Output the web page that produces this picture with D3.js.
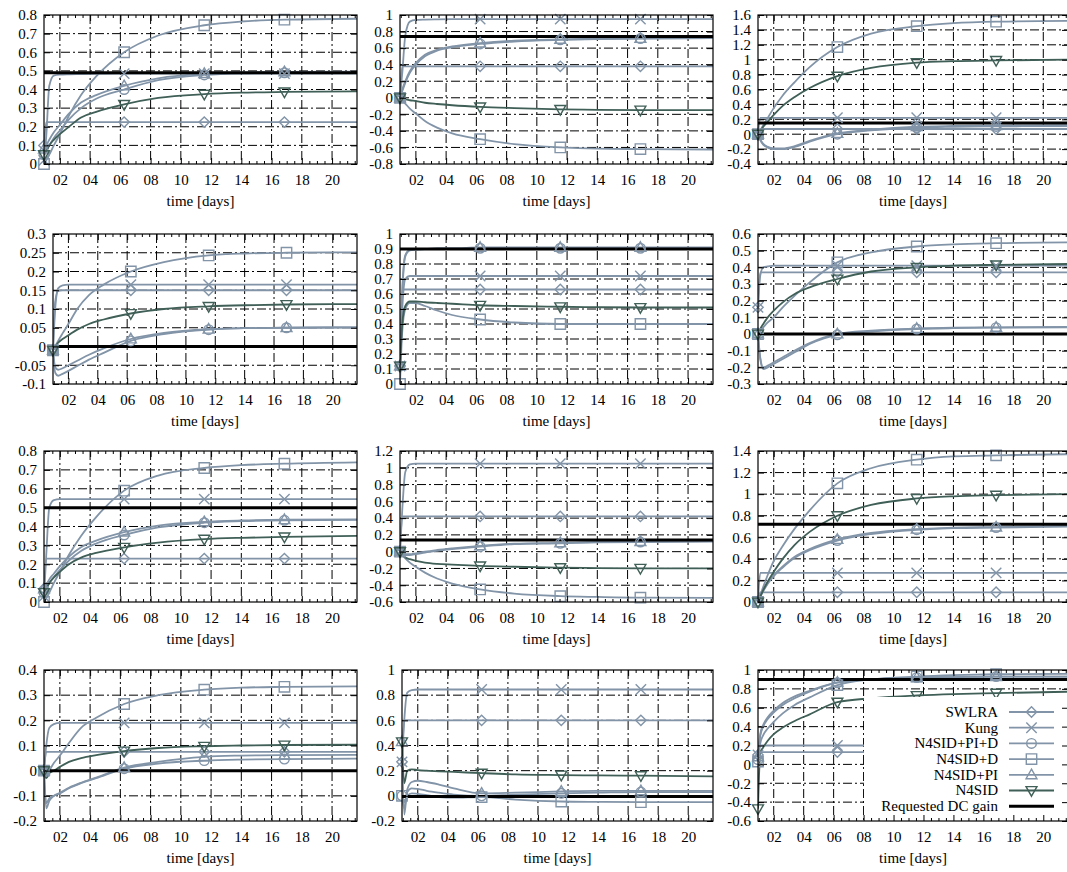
<!DOCTYPE html>
<html><head><meta charset="utf-8">
<script src="https://cdn.jsdelivr.net/npm/d3@7"></script>
<style>
body{margin:0;background:#fff}
svg{display:block}
svg text{font-family:"Liberation Serif","Times New Roman",Times,"DejaVu Serif",serif !important;fill:#000}
</style>
</head><body>
<svg id="c" width="1067" height="872"></svg>
<script>
// ---------------- data ----------------
const times = [0.95, 1.1, 1.3, 1.6, 2, 2.6, 3.4, 4.4, 6.25, 8.5, 11.55, 14, 16.85, 21.65];
const markerTimes = [0.95, 6.25, 11.55, 16.85];
const xDomain = [0.95, 21.65];
const seriesNames = ["SWLRA", "Kung", "N4SID+PI+D", "N4SID+D", "N4SID+PI", "N4SID"];
const dcName = "Requested DC gain";
const xTickValues = [2, 4, 6, 8, 10, 12, 14, 16, 18, 20];
const xTickLabels = ["02", "04", "06", "08", "10", "12", "14", "16", "18", "20"];
const xMinorTicks = [1, 1.5, 2.5, 3, 3.5, 4.5, 5, 5.5, 6.5, 7, 7.5, 8.5, 9, 9.5, 10.5, 11, 11.5, 12.5, 13, 13.5, 14.5, 15, 15.5, 16.5, 17, 17.5, 18.5, 19, 19.5, 20.5, 21, 21.5];
const xTitle = "time [days]";
const yDomains = [[0,0.8],[-0.8,1],[-0.4,1.6],[-0.1,0.3],[0,1],[-0.3,0.6],[0,0.8],[-0.6,1.2],[0,1.4],[-0.2,0.4],[-0.2,1],[-0.6,1]];
const yTickSteps = [0.1,0.2,0.2,0.05,0.1,0.1,0.1,0.2,0.2,0.1,0.2,0.2];
const dcGain = [0.49, 0.74, 0.15, 0, 0.9, 0, 0.5, 0.14, 0.72, 0, -0.005, 0.9];

// series order in each panel: SWLRA, Kung, N4SID+PI+D, N4SID+D, N4SID+PI, N4SID
const p01 = [
 [0.1,0.225,0.225,0.225,0.225,0.225,0.225,0.225,0.225,0.225,0.225,0.225,0.225,0.225],
 [0.02,0.15,0.42,0.475,0.48,0.482,0.483,0.484,0.485,0.485,0.485,0.485,0.485,0.485],
 [0.05,0.07,0.1,0.14,0.18,0.24,0.3,0.35,0.40,0.45,0.478,0.487,0.49,0.492],
 [0,0.02,0.05,0.1,0.16,0.26,0.37,0.47,0.6,0.69,0.745,0.765,0.775,0.78],
 [0.08,0.1,0.13,0.17,0.21,0.27,0.33,0.37,0.42,0.46,0.485,0.492,0.495,0.496],
 [0.05,0.07,0.1,0.13,0.16,0.2,0.25,0.28,0.32,0.355,0.375,0.383,0.387,0.39]];
const p02 = [
 [0,0.38,0.38,0.38,0.38,0.38,0.38,0.38,0.38,0.38,0.38,0.38,0.38,0.38],
 [0,0.3,0.75,0.92,0.94,0.945,0.948,0.95,0.95,0.95,0.95,0.95,0.95,0.95],
 [0,0.08,0.18,0.3,0.4,0.5,0.57,0.61,0.65,0.68,0.7,0.71,0.715,0.72],
 [0,-0.03,-0.07,-0.13,-0.19,-0.28,-0.36,-0.43,-0.5,-0.56,-0.6,-0.615,-0.62,-0.625],
 [0,0.1,0.2,0.32,0.42,0.52,0.58,0.62,0.66,0.69,0.705,0.712,0.717,0.72],
 [0,-0.01,-0.02,-0.03,-0.04,-0.06,-0.075,-0.09,-0.11,-0.125,-0.14,-0.145,-0.148,-0.15]];
const p03 = [
 [0,0.07,0.07,0.07,0.07,0.07,0.07,0.07,0.07,0.07,0.07,0.07,0.07,0.07],
 [0,0.22,0.22,0.22,0.22,0.22,0.22,0.22,0.22,0.22,0.22,0.22,0.22,0.22],
 [0,-0.08,-0.14,-0.18,-0.2,-0.2,-0.17,-0.1,0.0,0.05,0.09,0.1,0.105,0.11],
 [0,0.05,0.12,0.22,0.35,0.52,0.7,0.9,1.17,1.35,1.45,1.49,1.51,1.52],
 [0,-0.07,-0.13,-0.17,-0.19,-0.19,-0.16,-0.09,0.01,0.06,0.1,0.11,0.115,0.12],
 [0,0.04,0.1,0.17,0.26,0.38,0.5,0.62,0.78,0.89,0.96,0.98,0.99,1.0]];
const p04 = [
 [-0.01,0.12,0.148,0.15,0.15,0.15,0.15,0.15,0.15,0.15,0.15,0.15,0.15,0.15],
 [-0.01,0.1,0.155,0.163,0.165,0.165,0.165,0.165,0.165,0.165,0.165,0.165,0.165,0.165],
 [-0.01,-0.07,-0.078,-0.073,-0.065,-0.052,-0.035,-0.017,0.015,0.033,0.045,0.049,0.05,0.051],
 [-0.01,0.0,0.015,0.035,0.06,0.1,0.137,0.165,0.2,0.225,0.243,0.248,0.25,0.251],
 [-0.01,-0.055,-0.062,-0.058,-0.05,-0.038,-0.022,-0.005,0.02,0.036,0.046,0.049,0.05,0.051],
 [-0.01,0,0.01,0.02,0.03,0.045,0.06,0.072,0.088,0.1,0.107,0.11,0.112,0.113]];
const p05 = [
 [0.12,0.63,0.63,0.63,0.63,0.63,0.63,0.63,0.63,0.63,0.63,0.63,0.63,0.63],
 [0.12,0.5,0.7,0.72,0.72,0.72,0.72,0.72,0.72,0.72,0.72,0.72,0.72,0.72],
 [0.12,0.6,0.85,0.89,0.895,0.9,0.9,0.9,0.905,0.905,0.905,0.905,0.905,0.905],
 [0,0.35,0.5,0.54,0.54,0.52,0.49,0.46,0.43,0.41,0.4,0.4,0.4,0.4],
 [0.12,0.62,0.86,0.895,0.9,0.9,0.905,0.905,0.91,0.91,0.91,0.91,0.91,0.91],
 [0.12,0.4,0.52,0.55,0.55,0.545,0.54,0.535,0.525,0.52,0.515,0.512,0.51,0.51]];
const p06 = [
 [0.16,0.37,0.37,0.37,0.37,0.37,0.37,0.37,0.37,0.37,0.37,0.37,0.37,0.37],
 [0.16,0.35,0.4,0.405,0.41,0.41,0.41,0.41,0.41,0.41,0.41,0.41,0.41,0.41],
 [0,-0.15,-0.21,-0.2,-0.18,-0.15,-0.11,-0.06,-0.005,0.015,0.03,0.035,0.038,0.04],
 [0,0.02,0.04,0.07,0.1,0.16,0.23,0.31,0.43,0.49,0.525,0.538,0.545,0.55],
 [0,-0.14,-0.2,-0.19,-0.17,-0.14,-0.1,-0.055,0.0,0.02,0.033,0.038,0.04,0.042],
 [0,0.03,0.06,0.1,0.14,0.19,0.24,0.28,0.33,0.375,0.4,0.41,0.415,0.42]];
const p07 = [
 [0.07,0.23,0.23,0.23,0.23,0.23,0.23,0.23,0.23,0.23,0.23,0.23,0.23,0.23],
 [0.03,0.25,0.5,0.54,0.545,0.545,0.545,0.545,0.545,0.545,0.545,0.545,0.545,0.545],
 [0.05,0.07,0.1,0.13,0.17,0.22,0.27,0.31,0.355,0.395,0.42,0.428,0.433,0.435],
 [0,0.02,0.05,0.1,0.16,0.25,0.35,0.45,0.59,0.67,0.71,0.725,0.733,0.74],
 [0.07,0.09,0.12,0.15,0.19,0.24,0.29,0.325,0.37,0.405,0.425,0.432,0.436,0.438],
 [0.05,0.07,0.1,0.13,0.16,0.2,0.235,0.26,0.29,0.315,0.333,0.34,0.345,0.35]];
const p08 = [
 [0,0.42,0.42,0.42,0.42,0.42,0.42,0.42,0.42,0.42,0.42,0.42,0.42,0.42],
 [0,0.5,0.95,1.04,1.05,1.05,1.05,1.05,1.05,1.05,1.05,1.05,1.05,1.05],
 [0,-0.03,-0.04,-0.04,-0.03,-0.01,0.01,0.03,0.06,0.09,0.1,0.11,0.115,0.12],
 [0,-0.04,-0.08,-0.13,-0.18,-0.25,-0.32,-0.38,-0.45,-0.5,-0.53,-0.54,-0.548,-0.55],
 [0,-0.02,-0.03,-0.03,-0.02,0,0.02,0.04,0.07,0.095,0.105,0.115,0.12,0.125],
 [0,-0.04,-0.07,-0.09,-0.11,-0.13,-0.145,-0.155,-0.17,-0.18,-0.19,-0.195,-0.198,-0.2]];
const p09 = [
 [0,0.09,0.09,0.09,0.09,0.09,0.09,0.09,0.09,0.09,0.09,0.09,0.09,0.09],
 [0,0.27,0.27,0.27,0.27,0.27,0.27,0.27,0.27,0.27,0.27,0.27,0.27,0.27],
 [0,0.05,0.1,0.17,0.24,0.32,0.41,0.48,0.57,0.63,0.67,0.685,0.69,0.7],
 [0,0.06,0.14,0.25,0.38,0.52,0.68,0.85,1.1,1.24,1.32,1.35,1.36,1.37],
 [0,0.05,0.11,0.18,0.25,0.33,0.42,0.49,0.58,0.64,0.675,0.69,0.695,0.705],
 [0,0.05,0.11,0.19,0.28,0.4,0.53,0.65,0.8,0.9,0.96,0.98,0.99,1.0]];
const p10 = [
 [0,0.075,0.075,0.075,0.075,0.075,0.075,0.075,0.075,0.075,0.075,0.075,0.075,0.075],
 [0,0.1,0.17,0.185,0.19,0.19,0.19,0.19,0.19,0.19,0.19,0.19,0.19,0.19],
 [0,-0.13,-0.11,-0.1,-0.09,-0.07,-0.05,-0.03,0.008,0.028,0.04,0.044,0.046,0.048],
 [0,-0.02,0.0,0.03,0.06,0.11,0.17,0.21,0.265,0.3,0.322,0.33,0.333,0.335],
 [0,-0.15,-0.12,-0.1,-0.088,-0.068,-0.048,-0.028,0.012,0.035,0.055,0.06,0.062,0.063],
 [0,-0.03,-0.01,0.0,0.015,0.035,0.05,0.062,0.078,0.09,0.097,0.1,0.102,0.103]];
const p11 = [
 [0.27,0.6,0.6,0.6,0.6,0.6,0.6,0.6,0.6,0.6,0.6,0.6,0.6,0.6],
 [0.27,0.6,0.82,0.84,0.845,0.845,0.845,0.845,0.845,0.845,0.845,0.845,0.845,0.845],
 [0,-0.1,0.03,0.06,0.055,0.04,0.025,0.01,0.0,0.01,0.02,0.025,0.03,0.03],
 [0,-0.05,0.0,0.02,0.015,0.005,-0.01,-0.015,-0.01,-0.03,-0.045,-0.048,-0.05,-0.05],
 [0.43,-0.15,0.05,0.11,0.12,0.11,0.09,0.06,0.02,0.025,0.035,0.04,0.04,0.04],
 [0.43,0.1,0.2,0.21,0.205,0.2,0.195,0.19,0.18,0.17,0.165,0.162,0.16,0.155]];
const p12 = [
 [0.1,0.13,0.13,0.13,0.13,0.13,0.13,0.13,0.13,0.13,0.13,0.13,0.13,0.13],
 [0.1,0.2,0.2,0.2,0.2,0.2,0.2,0.2,0.2,0.2,0.2,0.2,0.2,0.2],
 [0.05,0.3,0.4,0.48,0.55,0.63,0.7,0.77,0.865,0.9,0.92,0.925,0.93,0.93],
 [0.03,0.22,0.31,0.38,0.45,0.54,0.63,0.71,0.84,0.9,0.93,0.945,0.955,0.96],
 [0.08,0.32,0.42,0.5,0.57,0.65,0.72,0.78,0.87,0.9,0.92,0.925,0.93,0.93],
 [-0.47,0.12,0.18,0.25,0.32,0.39,0.46,0.53,0.66,0.7,0.73,0.745,0.755,0.77]];
const panels = [p01,p02,p03,p04,p05,p06,p07,p08,p09,p10,p11,p12];

// ---------------- layout / style ----------------
const plotLeft = [[44,400,758],[53,400,758],[44,400,758],[44,402,758]];
const colRight = [357,713,1068];
const rowTop = [15,234,451,670];
const rowBottom = [164,384,602,821];
const shapes = ["diamond","cross","circle","square","triUp","triDown"];
const colors = ["#8294a8","#8294a8","#8294a8","#8294a8","#8294a8","#3f5f57"];
const FONT = "'Liberation Serif', 'Times New Roman', Times, 'DejaVu Serif', serif";

const svg = d3.select("#c");

function drawMarker(g, shape, cx, cy, color){
  const s = 5.2;
  let el;
  if (shape === "circle") {
    el = g.append("circle").attr("cx", cx).attr("cy", cy).attr("r", 4.8);
  } else {
    let d;
    if (shape === "diamond") d = `M${cx},${cy-s}L${cx+s},${cy}L${cx},${cy+s}L${cx-s},${cy}Z`;
    else if (shape === "cross") d = `M${cx-s},${cy-s}L${cx+s},${cy+s}M${cx-s},${cy+s}L${cx+s},${cy-s}`;
    else if (shape === "square") d = `M${cx-s},${cy-s}H${cx+s}V${cy+s}H${cx-s}Z`;
    else if (shape === "triUp") d = `M${cx},${cy-s*1.1}L${cx+s*1.05},${cy+s*0.75}L${cx-s*1.05},${cy+s*0.75}Z`;
    else d = `M${cx},${cy+s*1.1}L${cx+s*1.05},${cy-s*0.75}L${cx-s*1.05},${cy-s*0.75}Z`;
    el = g.append("path").attr("d", d);
  }
  el.attr("fill", "none").attr("stroke", color).attr("stroke-width", 1.4);
}

function fmtY(v){
  const r = +v.toFixed(4);
  return (r === 0 ? "0" : String(r));
}

panels.forEach((data, i) => {
  const r = Math.floor(i / 3), c = i % 3;
  const L = plotLeft[r][c], R = colRight[c], T = rowTop[r], B = rowBottom[r];
  const x = d3.scaleLinear().domain(xDomain).range([L, R]);
  const y = d3.scaleLinear().domain(yDomains[i]).range([B, T]);
  const [y0, y1] = yDomains[i];
  const n = Math.round((y1 - y0) / yTickSteps[i]);
  const yTicks = d3.range(n + 1).map(k => +(y0 + k * yTickSteps[i]).toFixed(4));

  const g = svg.append("g");
  const clipId = "clip" + i;
  g.append("clipPath").attr("id", clipId).append("rect")
    .attr("x", L).attr("y", T).attr("width", R - L).attr("height", B - T);

  // grid
  const grid = g.append("g").attr("stroke", "#000").attr("stroke-width", 1)
    .attr("stroke-dasharray", "9,3,2,3").attr("fill", "none");
  yTicks.filter(v => v > y0 && v < y1).forEach(v => {
    grid.append("line").attr("x1", L).attr("x2", R).attr("y1", y(v)).attr("y2", y(v));
  });
  xTickValues.forEach(v => {
    grid.append("line").attr("x1", x(v)).attr("x2", x(v)).attr("y1", T).attr("y2", B);
  });

  // series lines
  const line = d3.line().x((d, k) => x(times[k])).y(d => y(d)).curve(d3.curveMonotoneX);
  const lines = g.append("g").attr("clip-path", `url(#${clipId})`);
  data.forEach((vals, s) => {
    lines.append("path").attr("d", line(vals)).attr("fill", "none")
      .attr("stroke", colors[s]).attr("stroke-width", 1.8).attr("stroke-linejoin", "round");
  });

  // DC gain
  lines.append("line").attr("x1", L).attr("x2", R)
    .attr("y1", y(dcGain[i])).attr("y2", y(dcGain[i]))
    .attr("stroke", "#000").attr("stroke-width", 3);

  // markers
  const mg = g.append("g");
  data.forEach((vals, s) => {
    vals.forEach((v, k) => {
      if (markerTimes.includes(times[k])) drawMarker(mg, shapes[s], x(times[k]), y(v), colors[s]);
    });
  });

  // legend (last panel)
  if (i === 11) {
    const lg = g.append("g");
    lg.append("rect").attr("x", 864).attr("y", 697).attr("width", R - 864).attr("height", B - 697)
      .attr("fill", "#fff");
    const textX = 998, lx1 = 1009, lx2 = 1054, ly0 = 712, ldy = 15.7;
    seriesNames.forEach((name, s) => {
      const yy = ly0 + s * ldy;
      lg.append("text").attr("x", textX).attr("y", yy).attr("dy", "0.33em")
        .attr("text-anchor", "end").style("font-size", "15px").style("font-family", FONT).text(name);
      lg.append("line").attr("x1", lx1).attr("x2", lx2).attr("y1", yy).attr("y2", yy)
        .attr("stroke", colors[s]).attr("stroke-width", 1.8);
      drawMarker(lg, shapes[s], (lx1 + lx2) / 2, yy, colors[s]);
    });
    const yy = ly0 + 6 * ldy;
    lg.append("text").attr("x", textX).attr("y", yy).attr("dy", "0.33em")
      .attr("text-anchor", "end").style("font-size", "15px").style("font-family", FONT).text(dcName);
    lg.append("line").attr("x1", lx1).attr("x2", lx2).attr("y1", yy).attr("y2", yy)
      .attr("stroke", "#000").attr("stroke-width", 3);
  }

  // axes (ticks inward)
  const styleAxis = sel => {
    sel.attr("font-family", null).attr("font-size", null);
    sel.selectAll("text").style("font-family", FONT).style("font-size", "15px");
    sel.select(".domain").remove();
    sel.selectAll(".tick line").attr("stroke", "#000").attr("stroke-width", 1);
  };
  g.append("g").attr("transform", `translate(0,${B})`)
    .call(d3.axisBottom(x).tickValues(xTickValues).tickFormat((d, k) => xTickLabels[k])
      .tickSizeInner(-6).tickSizeOuter(0).tickPadding(10)).call(styleAxis);
  g.append("g").attr("transform", `translate(0,${T})`)
    .call(d3.axisTop(x).tickValues(xTickValues).tickFormat("").tickSizeInner(-6).tickSizeOuter(0)).call(styleAxis);
  g.append("g").attr("transform", `translate(0,${B})`)
    .call(d3.axisBottom(x).tickValues(xMinorTicks).tickFormat("").tickSizeInner(-3).tickSizeOuter(0)).call(styleAxis);
  g.append("g").attr("transform", `translate(0,${T})`)
    .call(d3.axisTop(x).tickValues(xMinorTicks).tickFormat("").tickSizeInner(-3).tickSizeOuter(0)).call(styleAxis);
  g.append("g").attr("transform", `translate(${L},0)`)
    .call(d3.axisLeft(y).tickValues(yTicks).tickFormat(fmtY).tickSizeInner(-6).tickSizeOuter(0).tickPadding(7)).call(styleAxis);
  g.append("g").attr("transform", `translate(${R},0)`)
    .call(d3.axisRight(y).tickValues(yTicks).tickFormat("").tickSizeInner(-6).tickSizeOuter(0)).call(styleAxis);

  // border
  g.append("rect").attr("x", L).attr("y", T).attr("width", R - L).attr("height", B - T)
    .attr("fill", "none").attr("stroke", "#000").attr("stroke-width", 1.2);

  // x title
  g.append("text").attr("x", (L + R) / 2).attr("y", B + 42).attr("text-anchor", "middle")
    .style("font-size", "15px").style("font-family", FONT).text(xTitle);
});
</script>
</body></html>
